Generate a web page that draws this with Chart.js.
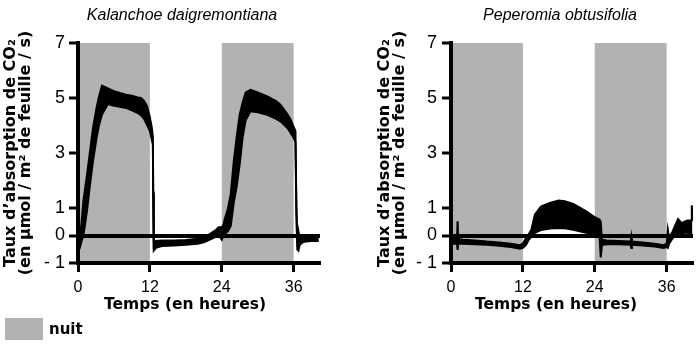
<!DOCTYPE html>
<html lang="fr">
<head>
<meta charset="utf-8">
<title>Taux d'absorption de CO2</title>
<script src="https://cdn.jsdelivr.net/npm/chart.js@4/dist/chart.umd.min.js"></script>
<style>
  html, body { margin: 0; padding: 0; background: #fff; }
  #wrap { position: relative; width: 700px; height: 347px; overflow: hidden; }
  #wrap canvas { position: absolute; top: 0; }
  .lbl { position: absolute; white-space: nowrap; color: #000; }
  .plant { font: italic 16px "Liberation Sans", Arial, sans-serif; text-align: center; width: 240px; top: 5px; line-height: 20px; }
  .xt { font: bold 15.5px "DejaVu Sans", sans-serif; text-align: center; width: 240px; top: 295px; line-height: 18px; }
  #nightBox { position: absolute; left: 5px; top: 318px; width: 38px; height: 22px; background: #b2b2b2; }
  #nightTxt { left: 49px; top: 320px; font: bold 15px "DejaVu Sans", sans-serif; line-height: 18px; }
</style>
</head>
<body>
<div id="wrap">
  <canvas id="kal" width="350" height="347" style="left:0"></canvas>
  <canvas id="pep" width="350" height="347" style="left:350px"></canvas>
  <div class="lbl plant" style="left:62px">Kalanchoe daigremontiana</div>
  <div class="lbl plant" style="left:440px">Peperomia obtusifolia</div>
  <div class="lbl xt" style="left:65px">Temps (en heures)</div>
  <div class="lbl xt" style="left:436px">Temps (en heures)</div>
  <div id="nightBox"></div>
  <div class="lbl" id="nightTxt">nuit</div>
</div>
<script>
// ---------- axes ----------
const xTicks = [0, 12, 24, 36];
const yTicks = [-1, 0, 1, 3, 5, 7];
const yTickLabels = ['- 1', '0', '1', '3', '5', '7'];
const yTitle = ["Taux d\u2019absorption de CO\u2082", "(en \u00b5mol / m\u00b2 de feuille / s)"];

// périodes de nuit (heures)
const nightStart = [0, 24];
const nightEnd = [12, 36];

// ---------- Kalanchoe daigremontiana : bornes basse / haute de la barre d'erreur ----------
const kalTime = [0, 0.3, 0.6, 0.9, 1.5, 2, 2.5, 3.1, 3.5, 4, 5, 6, 7, 8, 9, 10, 10.5, 11, 11.5, 12, 12.3, 12.5, 12.55, 12.65,
  13, 14, 16, 18, 20, 21, 22, 23, 23.5, 24, 24.3, 24.5, 25, 25.5, 26, 26.5, 27, 27.5, 28, 28.8, 30, 31.6, 33, 33.8, 35, 35.5,
  36, 36.3, 36.45, 36.6, 36.8, 37, 37.5, 38, 39, 40, 40.2];
const kalLow = [-0.6, -0.45, -0.2, 0.0, 0.9, 1.85, 2.7, 3.55, 4.0, 4.4, 4.78, 4.72, 4.68, 4.64, 4.55, 4.45, 4.38, 4.25, 4.03, 3.8, 3.5, 3.3, 1.5, -0.55,
  -0.45, -0.38, -0.36, -0.34, -0.3, -0.25, -0.15, -0.05, 0.0, -0.15, 0.0, 0.05, 0.15, 0.35, 1.2, 1.8, 2.6, 3.6, 4.2, 4.52, 4.48, 4.39, 4.25, 4.15, 3.9, 3.73,
  3.55, 3.4, 1.0, -0.5, -0.55, -0.35, -0.25, -0.22, -0.2, -0.2, -0.18];
const kalHigh = [-0.35, -0.1, 0.5, 1.25, 2.2, 3.05, 3.9, 4.65, 5.05, 5.45, 5.35, 5.25, 5.18, 5.12, 5.08, 5.02, 5.0, 4.9, 4.71, 4.3, 3.95, 3.6, 1.6, -0.35,
  -0.2, -0.18, -0.18, -0.16, -0.12, -0.05, 0.05, 0.2, 0.3, 0.3, 0.4, 0.6, 0.95, 1.5, 2.7, 3.6, 4.4, 4.85, 5.2, 5.3, 5.2, 5.06, 4.9, 4.76, 4.4, 4.21,
  3.95, 3.8, 1.1, -0.3, 0.15, -0.1, -0.05, -0.05, -0.05, -0.05, -0.05];

// ---------- Peperomia obtusifolia ----------
const pepTime = [0.2, 0.5, 1.0, 1.1, 1.2, 2, 4, 6, 8, 10, 11.5, 12, 12.5, 13, 13.4, 14, 15, 16.5, 18, 19, 20.4, 22, 22.6, 23.9, 24.8,
  25, 25.2, 26, 28, 30, 30.1, 30.2, 32, 34, 35.5, 36, 36.2, 36.4, 37, 37.4, 37.9, 38.5, 39, 39.5, 40.1, 40.2, 40.3];
const pepLow = [-0.3, -0.3, -0.3, -0.52, -0.3, -0.3, -0.32, -0.34, -0.37, -0.42, -0.48, -0.45, -0.35, -0.15, -0.05, 0.1, 0.2, 0.25, 0.27, 0.26, 0.21, 0.13, 0.1, 0.0, -0.05,
  -0.8, -0.35, -0.32, -0.32, -0.34, -0.45, -0.34, -0.36, -0.4, -0.45, -0.42, -0.45, -0.3, -0.1, 0.0, -0.05, 0.05, 0.1, 0.1, 0.05, 0.05, 0.05];
const pepHigh = [-0.05, -0.1, -0.1, 0.52, -0.12, -0.15, -0.18, -0.22, -0.25, -0.3, -0.35, -0.3, -0.1, 0.05, 0.2, 0.76, 1.05, 1.18, 1.27, 1.25, 1.15, 0.95, 0.88, 0.68, 0.58,
  0.5, -0.15, -0.18, -0.2, -0.22, -0.05, -0.22, -0.25, -0.3, -0.35, -0.3, 0.2, -0.1, 0.15, 0.35, 0.6, 0.45, 0.5, 0.55, 0.55, 1.1, 0.55];

const X_MAX = 40.4;
const NIGHT_COLOR = '#b2b2b2';
const TICK_FONT = "'Liberation Sans', Arial, sans-serif";

// bandes grises = nuit
const nightShade = {
  id: 'nightShade',
  beforeDraw(chart) {
    const { ctx, chartArea: a, scales: { x } } = chart;
    ctx.save();
    ctx.fillStyle = NIGHT_COLOR;
    nightStart.forEach((s, i) => {
      const x1 = x.getPixelForValue(s), x2 = x.getPixelForValue(nightEnd[i]);
      ctx.fillRect(x1, a.top, x2 - x1, a.bottom - a.top);
    });
    ctx.restore();
  }
};

function makeChart(id, time, low, high, axisW, padRight, titlePad, tickPad) {
  const pts = arr => time.map((t, i) => ({ x: t, y: arr[i] }));
  return new Chart(document.getElementById(id), {
    type: 'line',
    data: {
      datasets: [
        { data: pts(high), borderColor: '#000', backgroundColor: '#000', borderWidth: 2, pointRadius: 0, fill: '+1', tension: 0 },
        { data: pts(low), borderColor: '#000', backgroundColor: '#000', borderWidth: 2, pointRadius: 0, fill: false, tension: 0 }
      ]
    },
    options: {
      responsive: false,
      animation: false,
      devicePixelRatio: 1,
      layout: { padding: { top: 43, right: padRight, bottom: 0, left: 0 } },
      plugins: { legend: { display: false }, tooltip: { enabled: false }, title: { display: false } },
      scales: {
        x: {
          type: 'linear', min: 0, max: X_MAX,
          afterBuildTicks: s => { s.ticks = xTicks.map(v => ({ value: v })); },
          afterFit: s => { s.height = 84; },
          grid: { drawOnChartArea: false, tickLength: 9, tickWidth: 3, tickColor: '#000' },
          border: { color: '#000', width: 4 },
          ticks: { autoSkip: false, maxRotation: 0, padding: 6, color: '#000', font: { family: TICK_FONT, size: 16 } }
        },
        y: {
          type: 'linear', min: -1, max: 7,
          afterBuildTicks: s => { s.ticks = yTicks.map(v => ({ value: v })); },
          afterFit: s => { s.width = axisW; },
          grid: {
            color: c => (c.tick && c.tick.value === 0) ? '#000' : 'rgba(0,0,0,0)',
            lineWidth: 4, tickLength: 9, tickWidth: 3, tickColor: '#000'
          },
          border: { color: '#000', width: 4 },
          ticks: {
            padding: tickPad, color: '#000', font: { family: TICK_FONT, size: 18 },
            callback: (v, i) => yTickLabels[i]
          },
          title: {
            display: true, text: yTitle, color: '#000',
            padding: { top: titlePad, bottom: 0 },
            font: { family: "'DejaVu Sans', sans-serif", size: 16, weight: 'bold', lineHeight: 0.95 }
          }
        }
      }
    },
    plugins: [nightShade]
  });
}

makeChart('kal', kalTime, kalLow, kalHigh, 78, 30, 3.4, 4);
makeChart('pep', pepTime, pepLow, pepHigh, 101, 7, 27.4, 5);
</script>
</body>
</html>
